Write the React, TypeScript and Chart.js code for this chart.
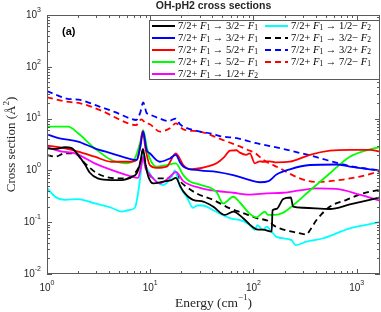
import { useEffect, useRef } from 'react';
import { Chart, registerables } from 'chart.js';
Chart.register(...registerables);

// ---------------- data (energy in cm^-1, cross section in Å^2) ----------------
const E_BLACK = [1, 1.2, 1.5, 1.73, 2.0, 2.33, 2.6, 3.1, 4.2, 5.3, 6.6, 7.4, 8.0, 8.5, 9.0, 9.6, 10.7, 13.4, 16.0, 17.7, 19.5, 21, 26, 32.6, 40.7, 53, 63.6, 79.5, 92, 107, 124, 150, 153, 167, 194, 230, 242, 303, 550, 857, 1674];
const S_BLACK = [2.67, 2.6, 2.8, 2.7, 2.0, 1.3, 0.9, 0.7, 0.65, 0.65, 0.75, 0.88, 1.4, 2.6, 1.3, 0.75, 0.56, 0.61, 0.65, 0.72, 0.5, 0.39, 0.27, 0.25, 0.2, 0.138, 0.16, 0.119, 0.09, 0.073, 0.072, 0.066, 0.17, 0.18, 0.28, 0.3, 0.2, 0.19, 0.18, 0.22, 0.3];

const E_BLUE = [1, 1.29, 2.0, 2.9, 4.2, 6.1, 7.4, 8.0, 8.55, 9.2, 9.9, 12.4, 15.5, 17.7, 19.5, 21, 30.3, 43.9, 63.6, 92.3, 115, 140, 167, 225, 352, 637, 857, 1674];
const S_BLUE = [4.98, 4.2, 3.6, 2.67, 2.14, 1.71, 1.59, 2.8, 5.6, 2.5, 2.14, 1.47, 1.7, 2.0, 1.4, 1.18, 1.0, 0.94, 0.81, 0.65, 0.59, 0.62, 0.83, 1.05, 1.27, 1.3, 1.18, 0.99];

const E_RED = [1, 1.5, 2.0, 2.9, 4.2, 6.6, 7.4, 8.0, 8.45, 9.0, 9.9, 11.5, 14.4, 17.7, 20.9, 24.2, 30.3, 35.2, 43.9, 52, 59.1, 68.6, 73.8, 85, 92.3, 103, 115, 124, 144, 167, 225, 352, 550, 857, 1340, 1674];
const S_RED = [3.0, 2.67, 2.3, 1.84, 1.47, 1.47, 1.59, 3.0, 5.8, 2.6, 1.27, 1.12, 1.18, 2.14, 1.27, 1.05, 1.1, 1.18, 1.37, 1.8, 2.4, 2.45, 2.2, 2.0, 2.14, 1.37, 1.5, 1.47, 1.5, 1.43, 1.47, 2.0, 2.4, 2.5, 2.5, 2.3];

const E_GREEN = [1, 1.6, 2.0, 2.9, 4.2, 5.7, 7.1, 8.0, 8.55, 9.2, 9.9, 11.5, 14.4, 17.7, 20.9, 24.2, 30.3, 43.9, 50.9, 63.6, 73.8, 92.3, 107, 129, 138, 161, 194, 234, 352, 550, 857, 1340, 1674];
const S_GREEN = [6.97, 6.97, 5.2, 2.67, 1.59, 1.37, 1.71, 3.5, 6.0, 3.0, 1.71, 1.18, 1.27, 1.37, 0.81, 0.61, 0.53, 0.38, 0.23, 0.31, 0.24, 0.145, 0.124, 0.16, 0.138, 0.138, 0.153, 0.2, 0.41, 0.88, 1.84, 2.55, 2.8];

const E_MAGENTA = [1, 1.4, 1.87, 2.9, 4.2, 6.6, 7.6, 8.1, 8.5, 9.0, 9.9, 12.4, 15.5, 17.7, 20.9, 30.3, 43.9, 63.6, 92.3, 134, 194, 281, 408, 637, 1071, 1674];
const S_MAGENTA = [2.79, 2.3, 2.14, 1.37, 1.02, 0.76, 0.72, 1.1, 1.8, 1.1, 0.83, 0.56, 0.75, 0.94, 0.62, 0.46, 0.4, 0.37, 0.34, 0.36, 0.37, 0.41, 0.45, 0.44, 0.34, 0.26];

const E_CYAN = [1, 1.2, 1.5, 2.0, 2.9, 4.2, 5.3, 6.1, 7.1, 7.6, 8.1, 8.5, 9.0, 9.5, 10.7, 13.4, 16.1, 17.3, 19.4, 22.5, 26, 28.5, 32.6, 40.7, 59, 79.5, 92, 103, 109, 124, 134, 150, 167, 234, 255, 326, 473, 857, 1674];
const S_CYAN = [0.46, 0.31, 0.27, 0.28, 0.23, 0.19, 0.16, 0.17, 0.19, 0.35, 0.9, 2.0, 1.2, 1.0, 0.7, 0.52, 0.75, 1.0, 0.49, 0.31, 0.19, 0.21, 0.21, 0.17, 0.12, 0.105, 0.088, 0.071, 0.088, 0.071, 0.082, 0.066, 0.052, 0.045, 0.036, 0.042, 0.049, 0.076, 0.1];

const E_BLACK_D = [1, 1.2, 1.49, 1.87, 2.33, 2.9, 3.64, 4.9, 6.1, 7.1, 8.0, 8.5, 9.0, 9.9, 11.5, 14.4, 17.7, 19.5, 22.5, 28.1, 40.7, 59.1, 79.5, 107, 144, 155, 180, 261, 326, 352, 408, 550, 796, 1154, 1674];
const S_BLACK_D = [1.98, 1.84, 2.14, 2.1, 1.37, 0.94, 0.76, 0.7, 0.7, 0.88, 1.4, 2.5, 1.3, 0.8, 0.7, 0.7, 0.88, 0.62, 0.48, 0.36, 0.27, 0.185, 0.15, 0.12, 0.102, 0.088, 0.076, 0.063, 0.058, 0.07, 0.11, 0.2, 0.27, 0.36, 0.42];

const E_BLUE_D = [1, 1.55, 2.1, 3.26, 4.5, 6.35, 7.3, 8.0, 8.55, 9.2, 9.9, 12.4, 15, 17.7, 19.4, 21, 30.3, 38, 50, 69, 103, 194, 408, 738, 1154, 1674];
const S_BLUE_D = [34, 24.4, 22.9, 16.9, 13.5, 10.1, 9.4, 13, 20.5, 13, 12, 10, 9, 10, 7.8, 7.0, 5.6, 5.2, 4.5, 4.2, 3.4, 2.6, 1.8, 1.3, 1.1, 1.0];

const E_RED_D = [1, 1.55, 2.1, 3.26, 6.35, 7.3, 8.2, 9.0, 9.9, 12.4, 15.5, 17.7, 20.9, 30.3, 50, 73.8, 92, 103, 124, 180, 281, 408, 637, 1071, 1674];
const S_RED_D = [25.8, 21.2, 19.7, 14.6, 7.9, 7.5, 9.7, 8.2, 7.8, 5.6, 6.5, 8.1, 6.2, 5.6, 3.9, 2.9, 2.4, 2.2, 1.6, 1.1, 0.7, 0.6, 0.64, 0.76, 0.96];

const SERIES_E = [E_BLACK, E_BLUE, E_RED, E_GREEN, E_MAGENTA, E_CYAN, E_BLACK_D, E_BLUE_D, E_RED_D];
const SERIES_S = [S_BLACK, S_BLUE, S_RED, S_GREEN, S_MAGENTA, S_CYAN, S_BLACK_D, S_BLUE_D, S_RED_D];
const SERIES_COLORS = ['#000000', '#0000ff', '#ff0000', '#00ff00', '#ff00ff', '#00ffff', '#000000', '#0000ff', '#ff0000'];
const SERIES_DASHED = [false, false, false, false, false, false, true, true, true];
const LEGEND_FINAL = ['3/2−', '3/2+', '5/2+', '5/2−', '1/2+', '1/2−', '3/2−', '3/2+', '7/2−'];
const LEGEND_FSUB = ['1', '1', '1', '1', '2', '2', '2', '2', '1'];

const X_MIN = 1;
const X_MAX = 1680;
const Y_MIN = 0.01;
const Y_MAX = 1000;
const X_DECADES = [0, 1, 2, 3];
const Y_DECADES = [-2, -1, 0, 1, 2, 3];

const TITLE = 'OH-pH2 cross sections';
const PANEL = '(a)';

// ---------------- drawing helpers ----------------
const AXIS = '#5a5a5a';
const TXT = '#262626';
const SANS = '"Liberation Sans", Arial, sans-serif';
const SERIF = '"Liberation Serif", "Times New Roman", serif';

type Seg = { t: string; f: string; dy?: number };
function segsWidth(ctx: CanvasRenderingContext2D, segs: Seg[]) {
  let w = 0;
  for (const s of segs) { ctx.font = s.f; w += ctx.measureText(s.t).width; }
  return w;
}
function drawSegs(ctx: CanvasRenderingContext2D, segs: Seg[], x: number, y: number) {
  let cx = x;
  for (const s of segs) {
    ctx.font = s.f;
    ctx.fillText(s.t, cx, y + (s.dy || 0));
    cx += ctx.measureText(s.t).width;
  }
  return cx;
}
function powSegs(p: number): Seg[] {
  const ex = p < 0 ? '-' + Math.abs(p) : String(p);
  return [{ t: '10', f: `10px ${SANS}` }, { t: ex, f: `7px ${SANS}`, dy: -5 }];
}
function legendSegs(i: number): Seg[] {
  const n = `10.5px ${SERIF}`;
  const it = `italic 10.5px ${SERIF}`;
  const sb = `7.5px ${SERIF}`;
  return [
    { t: '7/2+ ', f: n },
    { t: 'F', f: it },
    { t: '1', f: sb, dy: 2.5 },
    { t: ' → ' + LEGEND_FINAL[i] + ' ', f: n },
    { t: 'F', f: it },
    { t: LEGEND_FSUB[i], f: sb, dy: 2.5 },
  ];
}

const decoPlugin = {
  id: 'deco',
  afterDraw(chart: any) {
    const ctx: CanvasRenderingContext2D = chart.ctx;
    const a = chart.chartArea;
    const xs = chart.scales.x;
    const ys = chart.scales.y;
    ctx.save();
    // box
    ctx.strokeStyle = AXIS;
    ctx.lineWidth = 1;
    ctx.strokeRect(a.left + 0.5, a.top + 0.5, a.right - a.left - 1, a.bottom - a.top - 1);
    // ticks
    ctx.beginPath();
    const tickVals = (min: number, max: number) => {
      const out: { v: number; major: boolean }[] = [];
      for (let p = Math.floor(Math.log10(min)); p <= Math.ceil(Math.log10(max)); p++) {
        for (let m = 1; m <= 9; m++) {
          const v = m * Math.pow(10, p);
          if (v >= min * 0.999 && v <= max * 1.001) out.push({ v, major: m === 1 });
        }
      }
      return out;
    };
    for (const t of tickVals(X_MIN, X_MAX)) {
      const px = Math.round(xs.getPixelForValue(t.v)) + 0.5;
      const L = t.major ? 5 : 3;
      ctx.moveTo(px, a.bottom); ctx.lineTo(px, a.bottom - L);
      ctx.moveTo(px, a.top); ctx.lineTo(px, a.top + L);
    }
    for (const t of tickVals(Y_MIN, Y_MAX)) {
      const py = Math.round(ys.getPixelForValue(t.v)) + 0.5;
      const L = t.major ? 5 : 3;
      ctx.moveTo(a.left, py); ctx.lineTo(a.left + L, py);
      ctx.moveTo(a.right, py); ctx.lineTo(a.right - L, py);
    }
    ctx.stroke();

    // tick labels
    ctx.fillStyle = TXT;
    ctx.textBaseline = 'middle';
    ctx.textAlign = 'left';
    for (const p of Y_DECADES) {
      const py = ys.getPixelForValue(Math.pow(10, p));
      const segs = powSegs(p);
      const w = segsWidth(ctx, segs);
      drawSegs(ctx, segs, 41 - w, py);
    }
    for (const p of X_DECADES) {
      const px = xs.getPixelForValue(Math.pow(10, p));
      const segs = powSegs(p);
      const w = segsWidth(ctx, segs);
      drawSegs(ctx, segs, px - w / 2, 288);
    }

    // axis titles
    const xt: Seg[] = [
      { t: 'Energy (cm', f: `13.5px ${SERIF}` },
      { t: '−1', f: `9px ${SERIF}`, dy: -5 },
      { t: ')', f: `13.5px ${SERIF}` },
    ];
    const xw = segsWidth(ctx, xt);
    drawSegs(ctx, xt, (a.left + a.right) / 2 - xw / 2, 303);

    const yt: Seg[] = [
      { t: 'Cross section (Å', f: `13px ${SERIF}` },
      { t: '2', f: `9px ${SERIF}`, dy: -5 },
      { t: ')', f: `13px ${SERIF}` },
    ];
    const yw = segsWidth(ctx, yt);
    ctx.save();
    ctx.translate(12, (a.top + a.bottom) / 2);
    ctx.rotate(-Math.PI / 2);
    drawSegs(ctx, yt, -yw / 2, 0);
    ctx.restore();

    // title
    ctx.font = `bold 10.5px ${SANS}`;
    ctx.textAlign = 'center';
    ctx.fillStyle = TXT;
    ctx.fillText(TITLE, (a.left + a.right) / 2, 6);
    // panel label
    ctx.font = `bold 11px ${SANS}`;
    ctx.textAlign = 'left';
    ctx.fillStyle = '#000';
    ctx.fillText(PANEL, 62, 32);

    // legend
    const lx0 = 149, ly0 = 20, lx1 = a.right, ly1 = 80;
    ctx.fillStyle = '#fff';
    ctx.fillRect(lx0, ly0, lx1 - lx0, ly1 - ly0);
    ctx.strokeStyle = AXIS;
    ctx.lineWidth = 1;
    ctx.strokeRect(lx0 + 0.5, ly0 + 0.5, lx1 - lx0 - 1, ly1 - ly0 - 1);
    for (let i = 0; i < SERIES_COLORS.length; i++) {
      const col = i < 5 ? 0 : 1;
      const row = i < 5 ? i : i - 5;
      const y = 26 + row * 12;
      const sx = col === 0 ? 152 : 265;
      ctx.strokeStyle = SERIES_COLORS[i];
      ctx.lineWidth = 2;
      ctx.setLineDash(SERIES_DASHED[i] ? [6, 4] : []);
      ctx.beginPath();
      ctx.moveTo(sx, y);
      ctx.lineTo(sx + 23, y);
      ctx.stroke();
      ctx.setLineDash([]);
      ctx.fillStyle = '#000';
      ctx.textBaseline = 'middle';
      drawSegs(ctx, legendSegs(i), sx + 26, y);
    }
    ctx.restore();
  },
};

export default function App() {
  const ref = useRef<HTMLCanvasElement>(null);
  useEffect(() => {
    const datasets = SERIES_E.map((es, i) => ({
      label: `7/2+ F1 → ${LEGEND_FINAL[i]} F${LEGEND_FSUB[i]}`,
      data: es.map((e, j) => ({ x: e, y: SERIES_S[i][j] })),
      borderColor: SERIES_COLORS[i],
      backgroundColor: SERIES_COLORS[i],
      borderWidth: 1.8,
      borderDash: SERIES_DASHED[i] ? [6, 4] : [],
      pointRadius: 0,
      fill: false,
      cubicInterpolationMode: 'monotone' as const,
    }));
    const chart = new Chart(ref.current!, {
      type: 'line',
      data: { datasets },
      options: {
        responsive: false,
        animation: false,
        devicePixelRatio: 1,
        events: [],
        layout: { padding: { top: 15, right: 1, left: 0, bottom: 0 } },
        plugins: { legend: { display: false }, title: { display: false }, tooltip: { enabled: false } },
        scales: {
          x: {
            type: 'logarithmic', min: X_MIN, max: X_MAX,
            ticks: { display: false }, grid: { display: false }, border: { display: false },
            afterFit: (s: any) => { s.height = 38; },
          },
          y: {
            type: 'logarithmic', min: Y_MIN, max: Y_MAX,
            ticks: { display: false }, grid: { display: false }, border: { display: false },
            afterFit: (s: any) => { s.width = 47; },
          },
        },
      },
      plugins: [decoPlugin],
    } as any);
    return () => chart.destroy();
  }, []);
  return (
    <div style={{ position: 'absolute', left: 0, top: 0, width: 381, height: 312, background: '#fff' }}>
      <canvas ref={ref} width={381} height={312} style={{ display: 'block', width: 381, height: 312 }} />
    </div>
  );
}
